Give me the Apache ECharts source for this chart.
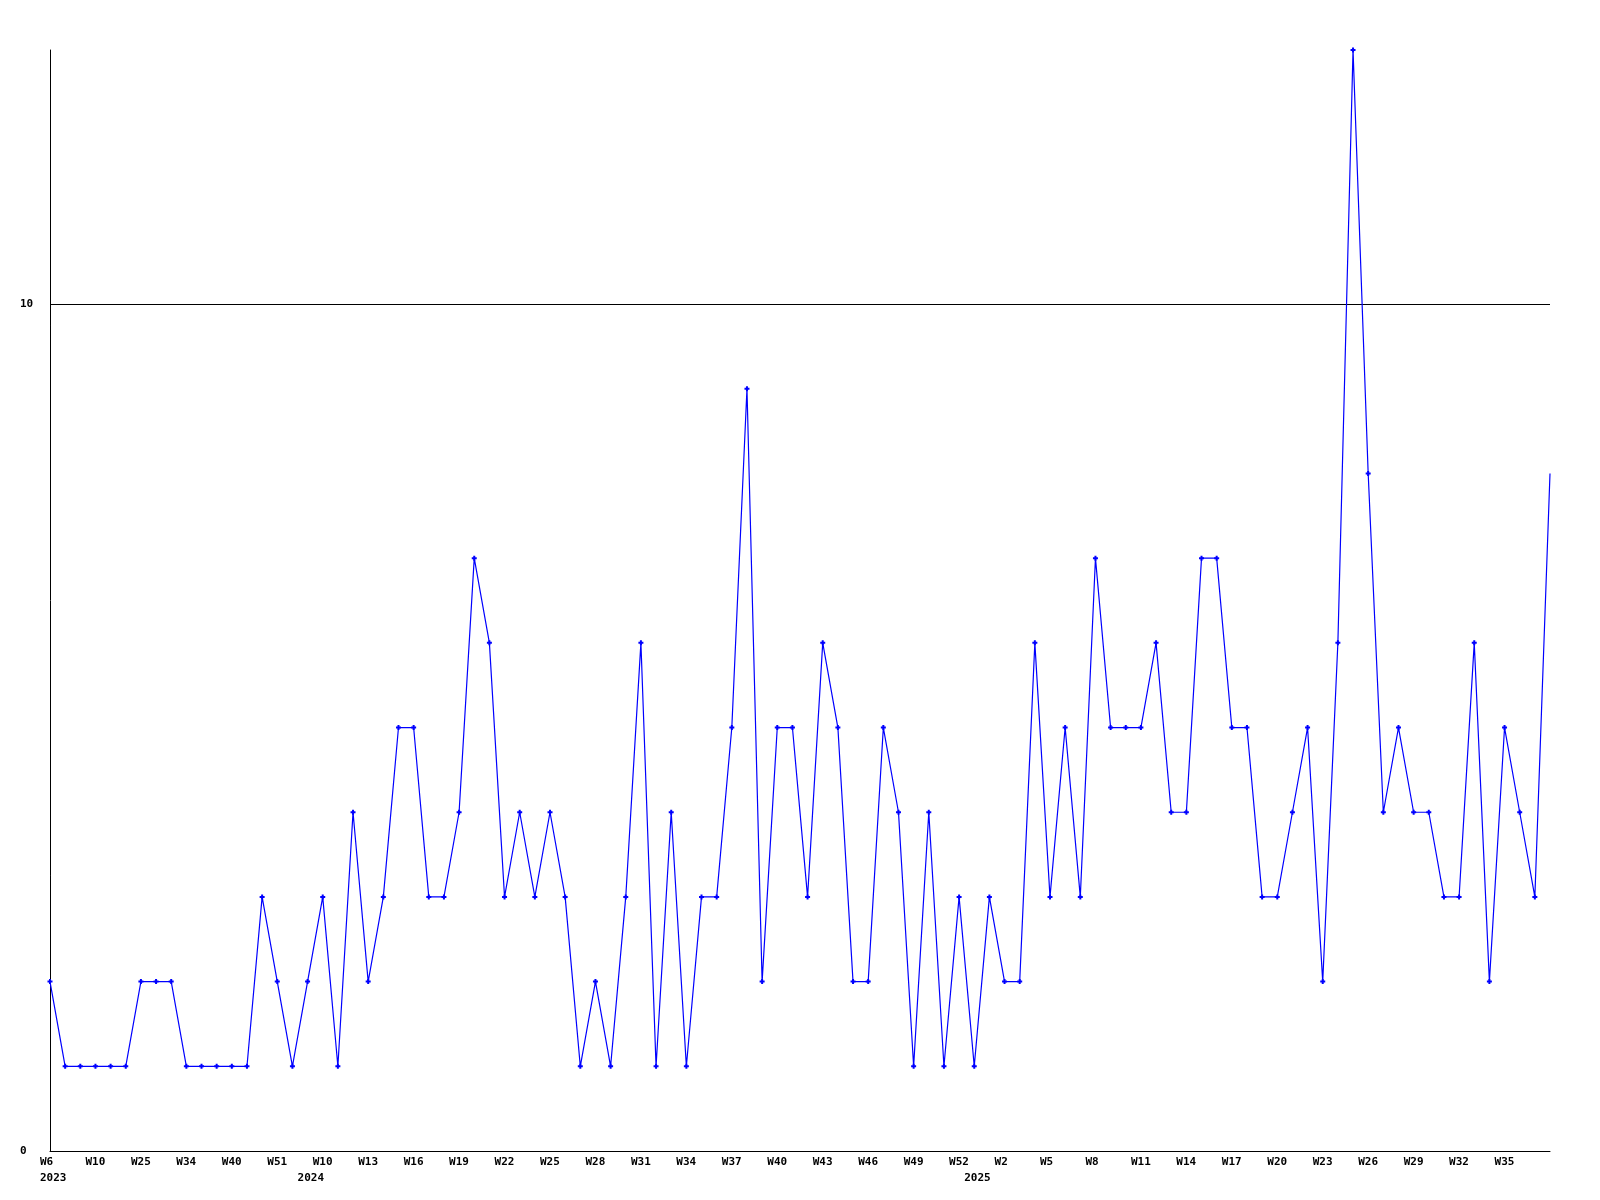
<!DOCTYPE html>
<html>
<head>
<meta charset="utf-8">
<script src="https://cdn.jsdelivr.net/npm/echarts@6/dist/echarts.min.js"></script>
<style>
  html, body { margin: 0; padding: 0; background: #fff; }
  #chart { width: 1600px; height: 1200px; }
</style>
</head>
<body>
<div id="chart"></div>
<script>
// Categories: year-week of each data point
const categories = [
  '2023-W06','2023-W08','2023-W09','2023-W10','2023-W14','2023-W20','2023-W25','2023-W27','2023-W30',
  '2023-W34','2023-W36','2023-W38','2023-W40','2023-W43','2023-W47','2023-W51','2023-W52',
  '2024-W09','2024-W10','2024-W11','2024-W12','2024-W13','2024-W14','2024-W15','2024-W16','2024-W17',
  '2024-W18','2024-W19','2024-W20','2024-W21','2024-W22','2024-W23','2024-W24','2024-W25','2024-W26',
  '2024-W27','2024-W28','2024-W29','2024-W30','2024-W31','2024-W32','2024-W33','2024-W34','2024-W35',
  '2024-W36','2024-W37','2024-W38','2024-W39','2024-W40','2024-W41','2024-W42','2024-W43','2024-W44',
  '2024-W45','2024-W46','2024-W47','2024-W48','2024-W49','2024-W50','2024-W51','2024-W52',
  '2025-W00','2025-W01','2025-W02','2025-W03','2025-W04','2025-W05','2025-W06','2025-W07','2025-W08',
  '2025-W09','2025-W10','2025-W11','2025-W12','2025-W13','2025-W14','2025-W15','2025-W16','2025-W17',
  '2025-W18','2025-W19','2025-W20','2025-W21','2025-W22','2025-W23','2025-W24','2025-W25','2025-W26',
  '2025-W27','2025-W28','2025-W29','2025-W30','2025-W31','2025-W32','2025-W33','2025-W34','2025-W35',
  '2025-W36','2025-W37','2025-W38'
];

// Series values
const values = [
  2,1,1,1,1,1,2,2,2,1,
  1,1,1,1,3,2,1,2,3,1,
  4,2,3,5,5,3,3,4,7,6,
  3,4,3,4,3,1,2,1,3,6,
  1,4,1,3,3,5,9,2,5,5,
  3,6,5,2,2,5,4,1,4,1,
  3,1,3,2,2,6,3,5,3,7,
  5,5,5,6,4,4,7,7,5,5,
  3,3,4,5,2,6,13,8,4,5,
  4,4,3,3,6,2,5,4,3,8
];

// Tick labels
const weekTickLabels = ['W6','W10','W25','W34','W40','W51','W10','W13','W16','W19','W22','W25','W28',
  'W31','W34','W37','W40','W43','W46','W49','W52','W2','W5','W8','W11','W14','W17','W20','W23',
  'W26','W29','W32','W35'];
const tickStep = 3;
const yearLabels = ['2023','2024','2025'];
const yearStartIndex = [0, 17, 61];

const yTickValues = [0, 10];

const FONT = 'DejaVu Sans Mono';

function labelFor(idx) {
  const week = (idx % tickStep === 0) ? weekTickLabels[idx / tickStep] : ' ';
  const yi = yearStartIndex.indexOf(idx);
  return yi >= 0 ? week + '\n' + yearLabels[yi] : week;
}

// last point is drawn without a marker (as in the original)
const seriesData = values.map(function (v, i) {
  return i === values.length - 1 ? { value: v, symbol: 'none' } : v;
});

const chart = echarts.init(document.getElementById('chart'), null, { renderer: 'canvas' });
chart.setOption({
  animation: false,
  backgroundColor: '#ffffff',
  grid: [
    { left: 50, right: 50, top: 50, bottom: 49, containLabel: false },
    { left: 40, right: 60, top: 50, bottom: 49, containLabel: false }
  ],
  xAxis: [
    {
      type: 'category', gridIndex: 0, data: categories, boundaryGap: false,
      axisLine: { show: true, onZero: false, lineStyle: { color: '#000', width: 1 } },
      axisTick: { show: false },
      axisLabel: { show: false },
      splitLine: { show: false }
    },
    {
      type: 'category', gridIndex: 1, data: categories, boundaryGap: false,
      axisLine: { show: false },
      axisTick: { show: false },
      splitLine: { show: false },
      axisLabel: {
        show: true,
        interval: function (idx) { return idx % tickStep === 0 || yearStartIndex.indexOf(idx) >= 0; },
        formatter: function (v, idx) { return labelFor(idx); },
        align: 'left',
        margin: 3,
        color: '#000',
        fontFamily: FONT,
        fontWeight: 'bold',
        fontSize: 11,
        lineHeight: 16
      }
    }
  ],
  yAxis: [
    {
      type: 'value', gridIndex: 0, min: 0, max: 13, interval: 10,
      axisLine: { show: true, lineStyle: { color: '#000', width: 1 } },
      axisTick: { show: false },
      axisLabel: {
        align: 'left', margin: 30, color: '#000',
        fontFamily: FONT, fontWeight: 'bold', fontSize: 11,
        formatter: function (v) { return yTickValues.indexOf(v) >= 0 ? String(v) : ''; }
      },
      splitLine: { show: true, lineStyle: { color: ['#000000', '#000000', 'rgba(0,0,0,0)'], width: 1 } }
    },
    { type: 'value', gridIndex: 1, show: false, min: 0, max: 13 }
  ],
  series: [
    {
      type: 'line',
      xAxisIndex: 0, yAxisIndex: 0,
      data: seriesData,
      showAllSymbol: true,
      symbol: 'path://M1.5,0L3.5,0L3.5,1.5L5,1.5L5,3.5L3.5,3.5L3.5,5L1.5,5L1.5,3.5L0,3.5L0,1.5L1.5,1.5Z',
      symbolSize: 5,
      lineStyle: { color: '#0000ff', width: 1.2 },
      itemStyle: { color: '#0000ff' },
      emphasis: { disabled: true }
    }
  ]
});
</script>
</body>
</html>
